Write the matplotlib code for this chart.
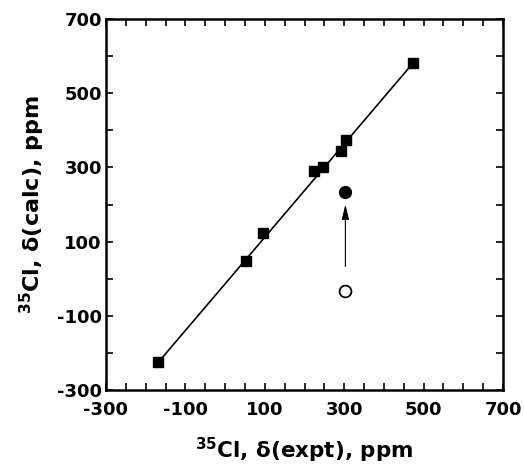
import matplotlib
matplotlib.use("Agg")
import matplotlib.pyplot as plt
from matplotlib.ticker import MultipleLocator

plt.rcParams['font.family'] = ['DejaVu Sans']
plt.rcParams['mathtext.default'] = 'regular'
plt.rcParams['axes.unicode_minus'] = False

# data (ppm)
sq_x = [-168, 53, 95, 224, 247, 291, 304, 474]
sq_y = [-225, 49, 123, 289, 302, 344, 373, 582]
fit_x = [-168, 474]
fit_y = [-225, 582]
filled_x = [303]
filled_y = [233]
open_x = [303]
open_y = [-32]
arrow_start = (303, 33)
arrow_end = (303, 200)

xticks = [-300, -100, 100, 300, 500, 700]
yticks = [-300, -100, 100, 300, 500, 700]

fig = plt.figure(figsize=(5.24, 4.69), dpi=100)
ax = fig.add_axes([106/524, 1 - 390/469, (503-106)/524, (390-19)/469])

ax.plot(fit_x, fit_y, color='black', lw=1.2, zorder=2)
ax.plot(sq_x, sq_y, 's', color='black', ms=7.5, zorder=3)
ax.plot(filled_x, filled_y, 'o', color='black', ms=8.5, zorder=3)
ax.plot(open_x, open_y, 'o', mfc='white', mec='black', mew=1.3, ms=8.5, zorder=3)
ax.annotate('', xy=arrow_end, xytext=arrow_start,
            arrowprops=dict(arrowstyle='-|>,head_length=0.9,head_width=0.22',
                            color='black', lw=0.8, shrinkA=0, shrinkB=0))

ax.set_xlim(-300, 700)
ax.set_ylim(-300, 700)
ax.set_xticks(xticks)
ax.set_yticks(yticks)
ax.xaxis.set_minor_locator(MultipleLocator(50))
ax.yaxis.set_minor_locator(MultipleLocator(100))
ax.tick_params(which='both', direction='in', top=True, right=True, width=1.2)
ax.tick_params(which='major', length=5)
ax.tick_params(which='minor', length=5)
ax.tick_params(axis='x', pad=8)
ax.tick_params(axis='y', pad=3)
for lab in ax.get_xticklabels() + ax.get_yticklabels():
    lab.set_fontsize(13)
    lab.set_fontweight('bold')
for s in ax.spines.values():
    s.set_linewidth(1.8)

ax.set_xlabel(r'$^{35}$Cl, δ(expt), ppm', fontsize=15.5, fontweight='bold', labelpad=12)
ax.set_ylabel(r'$^{35}$Cl, δ(calc), ppm', fontsize=16, fontweight='bold', labelpad=7)

fig.savefig('out.png', dpi=100)
